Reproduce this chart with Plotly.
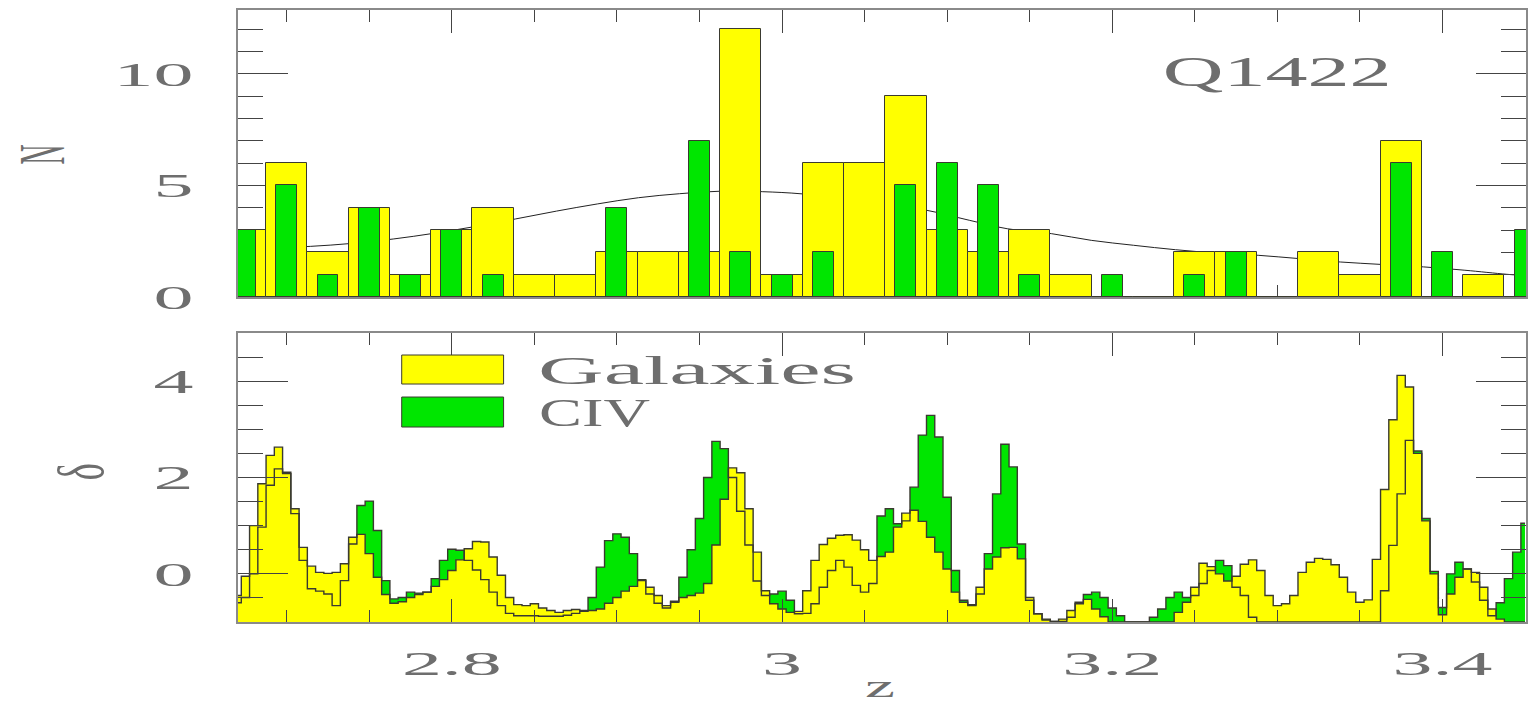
import plotly.graph_objects as go

# ---------------- data: top panel (histogram, counts per dz = 0.025 bin) ----------------
z_bins = [2.675, 2.700, 2.725, 2.750, 2.775, 2.800, 2.825, 2.850, 2.875, 2.900,
          2.925, 2.950, 2.975, 3.000, 3.025, 3.050, 3.075, 3.100, 3.125, 3.150,
          3.175, 3.200, 3.225, 3.250, 3.275, 3.300, 3.325, 3.350, 3.375, 3.400,
          3.425, 3.450]
n_galaxies = [3, 6, 2, 4, 1, 3, 4, 1, 1, 2,
              2, 2, 12, 1, 6, 6, 9, 3, 2, 3,
              1, 0, 0, 2, 2, 0, 2, 1, 7, 0,
              1, 0]
n_civ = [3, 5, 1, 4, 1, 3, 1, 0, 0, 4,
         0, 7, 2, 1, 2, 0, 5, 6, 5, 1,
         0, 1, 0, 1, 2, 0, 0, 0, 6, 2,
         0, 3]

# smooth selection curve
curve_z = [2.6875, 2.7143, 2.7391, 2.7645, 2.7887, 2.8134, 2.8387, 2.8634, 2.8881, 2.9131,
           2.9380, 2.9625, 2.9880, 3.0124, 3.0500, 3.0854, 3.1134, 3.1364, 3.1631, 3.1873,
           3.2128, 3.2383, 3.2637, 3.2884, 3.3134, 3.3381, 3.3631, 3.3886, 3.4136, 3.4387,
           3.4480]
curve_n = [2.20, 2.27, 2.40, 2.60, 2.85, 3.15, 3.50, 3.85, 4.17, 4.45,
           4.63, 4.74, 4.72, 4.62, 4.30, 3.92, 3.44, 3.06, 2.84, 2.54,
           2.32, 2.12, 1.97, 1.87, 1.72, 1.57, 1.46, 1.35, 1.20, 1.02,
           0.97]

# ---------------- data: bottom panel (overdensity delta, sampled every 0.005 in z) ----------------
z_start = 2.670
z_step = 0.005
delta_galaxies = [
    -0.45, -0.05, 1.00, 1.87, 2.46, 2.63, 2.11, 1.35, 0.55, 0.16,   # 2.670-2.715
    0.03, 0.01, 0.03, 0.21, 0.76, 0.82, 0.42, -0.07, -0.43, -0.61,  # 2.720-2.765
    -0.58, -0.49, -0.43, -0.38, -0.26, -0.12, 0.07, 0.29, 0.52, 0.67,  # 2.770-2.815
    0.66, 0.35, -0.03, -0.49, -0.64, -0.66, -0.62, -0.71, -0.76, -0.80,  # 2.820-2.865
    -0.76, -0.74, -0.76, -0.76, -0.73, -0.61, -0.49, -0.36, -0.26, -0.14,  # 2.870-2.915
    -0.28, -0.45, -0.66, -0.57, -0.49, -0.45, -0.40, -0.20, 0.60, 1.55,  # 2.920-2.965
    2.20, 2.10, 1.35, 0.45, -0.35, -0.62, -0.73, -0.80, -0.78, -0.35,  # 2.970-3.015
    0.28, 0.61, 0.74, 0.80, 0.81, 0.70, 0.50, 0.28, 0.36, 0.45,  # 3.020-3.065
    0.97, 1.26, 1.32, 1.09, 0.76, 0.45, 0.10, -0.38, -0.59, -0.64,  # 3.070-3.115
    -0.28, 0.10, 0.35, 0.54, 0.55, 0.31, -0.49, -0.83, -0.94, -0.99,  # 3.120-3.165
    -0.94, -0.76, -0.59, -0.53, -0.73, -0.89, -1.00, -1.00, -1.00, -1.00,  # 3.170-3.215
    -1.00, -1.00, -1.00, -1.00, -0.80, -0.59, -0.28, 0.22, 0.15, 0.00,  # 3.220-3.265
    -0.15, -0.05, 0.20, 0.29, 0.07, -0.45, -0.66, -0.62, -0.45, 0.03,  # 3.270-3.315
    0.24, 0.32, 0.30, 0.19, -0.07, -0.38, -0.59, -0.54, 0.30, 1.75,  # 3.320-3.365
    3.20, 4.12, 3.88, 2.50, 1.10, 0.00, -0.85, -0.42, -0.07, 0.10,  # 3.370-3.415
    0.03, -0.28, -0.73, -0.94, -1.00, -1.00, -1.00,  # 3.420-3.450
]
delta_civ = [
    -0.60, -0.49, 0.00, 0.97, 1.84, 2.18, 2.08, 1.25, 0.28, -0.31,  # 2.670-2.715
    -0.36, -0.42, -0.66, -0.14, 0.62, 1.42, 1.51, 0.90, -0.14, -0.52,  # 2.720-2.765
    -0.49, -0.38, -0.40, -0.38, -0.10, 0.28, 0.51, 0.49, 0.28, 0.08,  # 2.770-2.815
    -0.12, -0.38, -0.66, -0.82, -0.87, -0.87, -0.87, -0.88, -0.88, -0.88,  # 2.820-2.865
    -0.86, -0.82, -0.78, -0.49, 0.14, 0.69, 0.83, 0.76, 0.42, -0.12,  # 2.870-2.915
    -0.42, -0.61, -0.71, -0.59, -0.07, 0.50, 1.15, 2.00, 2.75, 2.60,  # 2.920-2.965
    2.00, 1.30, 0.60, -0.15, -0.45, -0.42, -0.36, -0.55, -0.83, -0.82,  # 2.970-3.015
    -0.62, -0.28, 0.07, 0.28, 0.14, -0.24, -0.38, -0.20, 1.20, 1.35,  # 3.020-3.065
    1.04, 1.10, 1.80, 2.88, 3.29, 2.84, 1.59, 0.07, -0.55, -0.66,  # 3.070-3.115
    -0.42, 0.42, 1.66, 2.69, 2.22, 0.62, -0.55, -0.83, -0.96, -0.99,  # 3.120-3.165
    -0.99, -0.90, -0.62, -0.43, -0.38, -0.49, -0.71, -0.87, -1.00, -1.00,  # 3.170-3.215
    -1.00, -0.90, -0.73, -0.49, -0.38, -0.49, -0.45, -0.20, 0.07, 0.28,  # 3.220-3.265
    0.17, -0.28, -0.45, -0.90, -1.00, -1.00, -1.00, -1.00, -1.00, -1.00,  # 3.270-3.315
    -1.00, -1.00, -1.00, -1.00, -1.00, -1.00, -1.00, -1.00, -1.00, -0.35,  # 3.320-3.365
    0.59, 1.66, 2.77, 2.55, 1.15, 0.05, -0.70, 0.00, 0.24, 0.10,  # 3.370-3.415
    -0.17, -0.55, -0.87, -0.60, -0.10, 0.45, 1.05,  # 3.420-3.450
]
z_delta = [round(z_start + z_step * i, 3) for i in range(len(delta_galaxies))]

# text
panel_label = "Q1422"
legend_labels = ["Galaxies", "CIV"]

# ---------------- styling ----------------
YELLOW = "#FFFF00"
GREEN = "#00E600"
OUTLINE = "#3a3a30"
AXISCOL = "#8a8a8a"
TICKCOL = "#444444"
FONT = "Liberation Serif"
TXTCOL = "#6e6e6e"
SHAPE = "hvh"

X_RANGE = [2.6705, 3.4506]

fig = go.Figure()

# top panel: curve (behind bars)
fig.add_trace(go.Scatter(x=curve_z, y=curve_n, mode="lines", line=dict(color="#222222", width=1, shape="spline"),
                         xaxis="x", yaxis="y", zorder=0, showlegend=False, hoverinfo="skip"))
fig.add_trace(go.Bar(x=z_bins, y=n_galaxies, width=0.025, marker=dict(color=YELLOW, line=dict(color=OUTLINE, width=1)),
                     xaxis="x", yaxis="y", zorder=1, showlegend=False))
fig.add_trace(go.Bar(x=z_bins, y=n_civ, width=0.0127, marker=dict(color=GREEN, line=dict(color=OUTLINE, width=1)),
                     xaxis="x", yaxis="y", zorder=1, showlegend=False))

# bottom panel: filled step curves (CIV below, galaxies on top, then both outlines)
base = [-1.0] * len(z_delta)
fig.add_trace(go.Scatter(x=z_delta, y=base, mode="lines", line=dict(width=0, shape=SHAPE),
                         xaxis="x2", yaxis="y2", showlegend=False, hoverinfo="skip"))
fig.add_trace(go.Scatter(x=z_delta, y=delta_civ, mode="lines", line=dict(width=0, shape=SHAPE),
                         fill="tonexty", fillcolor=GREEN, xaxis="x2", yaxis="y2", showlegend=False))
fig.add_trace(go.Scatter(x=z_delta, y=base, mode="lines", line=dict(width=0, shape=SHAPE),
                         xaxis="x2", yaxis="y2", showlegend=False, hoverinfo="skip"))
fig.add_trace(go.Scatter(x=z_delta, y=delta_galaxies, mode="lines", line=dict(width=0, shape=SHAPE),
                         fill="tonexty", fillcolor=YELLOW, xaxis="x2", yaxis="y2", showlegend=False))
fig.add_trace(go.Scatter(x=z_delta, y=delta_civ, mode="lines", line=dict(color=OUTLINE, width=1.4, shape=SHAPE),
                         xaxis="x2", yaxis="y2", showlegend=False, hoverinfo="skip"))
fig.add_trace(go.Scatter(x=z_delta, y=delta_galaxies, mode="lines", line=dict(color=OUTLINE, width=1.4, shape=SHAPE),
                         xaxis="x2", yaxis="y2", showlegend=False, hoverinfo="skip"))

tickfont = dict(family=FONT, size=34, color=TXTCOL)
xcommon = dict(range=X_RANGE, ticks="inside", ticklen=23, tickwidth=1.2, tickcolor=TICKCOL,
               tick0=2.8, dtick=0.2, mirror="allticks", showline=True, linecolor=AXISCOL, linewidth=1.5,
               showgrid=False, zeroline=False, tickfont=tickfont,
               minor=dict(ticks="inside", ticklen=12, tick0=2.8, dtick=0.05, tickcolor=TICKCOL, tickwidth=1.2,
                          showgrid=False))
ycommon = dict(ticks="inside", ticklen=50, tickwidth=1.2, tickcolor=TICKCOL, mirror="allticks", showline=True,
               linecolor=AXISCOL, linewidth=1.5, showgrid=False, zeroline=False, tickfont=tickfont,
               ticklabelstandoff=36)

fig.update_layout(
    width=1535, height=704, autosize=False,
    margin=dict(l=238, r=7, t=10, b=82),
    paper_bgcolor="white", plot_bgcolor="white",
    barmode="overlay", bargap=0,
    showlegend=False,
    xaxis=dict(domain=[0, 1], anchor="y", showticklabels=False, **xcommon),
    xaxis2=dict(domain=[0, 1], anchor="y2", showticklabels=True, ticklabelstandoff=10, **xcommon),
    yaxis=dict(domain=[0.531, 1.0], anchor="x", range=[0, 12.86], tick0=0, dtick=5,
               minor=dict(ticks="inside", ticklen=25, tick0=0, dtick=1, tickcolor=TICKCOL, tickwidth=1.2),
               **ycommon),
    yaxis2=dict(domain=[0, 0.4722], anchor="x2", range=[-1, 5], tick0=0, dtick=2,
                minor=dict(ticks="inside", ticklen=25, tick0=0, dtick=0.5, tickcolor=TICKCOL, tickwidth=1.2),
                **ycommon),
)

# legend drawn inside the lower panel
fig.add_shape(type="rect", xref="x2 domain", yref="y2 domain", x0=0.1271, x1=0.2062, y0=0.8235, y1=0.9239,
              fillcolor=YELLOW, line=dict(color=OUTLINE, width=1))
fig.add_shape(type="rect", xref="x2 domain", yref="y2 domain", x0=0.1271, x1=0.2062, y0=0.6747, y1=0.7785,
              fillcolor=GREEN, line=dict(color=OUTLINE, width=1))
fig.add_annotation(xref="x2 domain", yref="y2 domain", x=(698 - 238) / 1290, y=0.872, text=legend_labels[0],
                   showarrow=False, xanchor="center", yanchor="middle", font=dict(family=FONT, size=40, color=TXTCOL))
fig.add_annotation(xref="x2 domain", yref="y2 domain", x=(595 - 238) / 1290, y=0.7266, text=legend_labels[1],
                   showarrow=False, xanchor="center", yanchor="middle", font=dict(family=FONT, size=40, color=TXTCOL))

# panel label
fig.add_annotation(xref="x domain", yref="y domain", x=0.807, y=0.784, text=panel_label, showarrow=False,
                   xanchor="center", yanchor="middle", font=dict(family=FONT, size=42, color=TXTCOL))

# axis titles
fig.add_annotation(xref="paper", yref="paper", x=(41 - 238) / 1290, y=0.7647, text="N", textangle=-90,
                   showarrow=False, xanchor="center", yanchor="middle", font=dict(family=FONT, size=66, color=TXTCOL))
fig.add_annotation(xref="paper", yref="paper", x=(80 - 238) / 1290, y=0.245, text="δ", textangle=-90,
                   showarrow=False, xanchor="center", yanchor="middle", font=dict(family=FONT, size=66, color=TXTCOL))
fig.add_annotation(xref="paper", yref="paper", x=(881 - 238) / 1290, y=-0.104, text="z", showarrow=False,
                   xanchor="center", yanchor="middle", font=dict(family=FONT, size=32, color=TXTCOL))

# the reference's lettering is drawn horizontally wide (and the rotated titles narrow along
# their own direction); adjust the rendered glyph widths to the same widths
post_js = """
document.body.style.margin='0';
(function(){
  function widen(){
    var gd = document.getElementsByClassName('plotly-graph-div')[0];
    if(!gd){return;}
    function setw(el, w){ el.setAttribute('textLength', w.toFixed(1)); el.setAttribute('lengthAdjust','spacingAndGlyphs'); }
    gd.querySelectorAll('.xaxislayer-above text, .yaxislayer-above text').forEach(function(t){
      if(!t.dataset.w0){ t.dataset.w0 = t.getComputedTextLength(); }
      setw(t, parseFloat(t.dataset.w0) * 2.35);
    });
    var targets = {'Q1422': 229, 'Galaxies': 318, 'CIV': 111, 'z': 30, 'N': 20, 'δ': 17};
    gd.querySelectorAll('.annotation-text').forEach(function(t){
      var k = t.textContent;
      if(targets[k] !== undefined){ setw(t, targets[k]); }
    });
  }
  widen();
  setTimeout(widen, 50);
  var gd0 = document.getElementsByClassName('plotly-graph-div')[0];
  if(gd0 && gd0.on){ gd0.on('plotly_afterplot', widen); }
})();
"""

fig.write_html("out.html", post_script=post_js, config={"displayModeBar": False})
